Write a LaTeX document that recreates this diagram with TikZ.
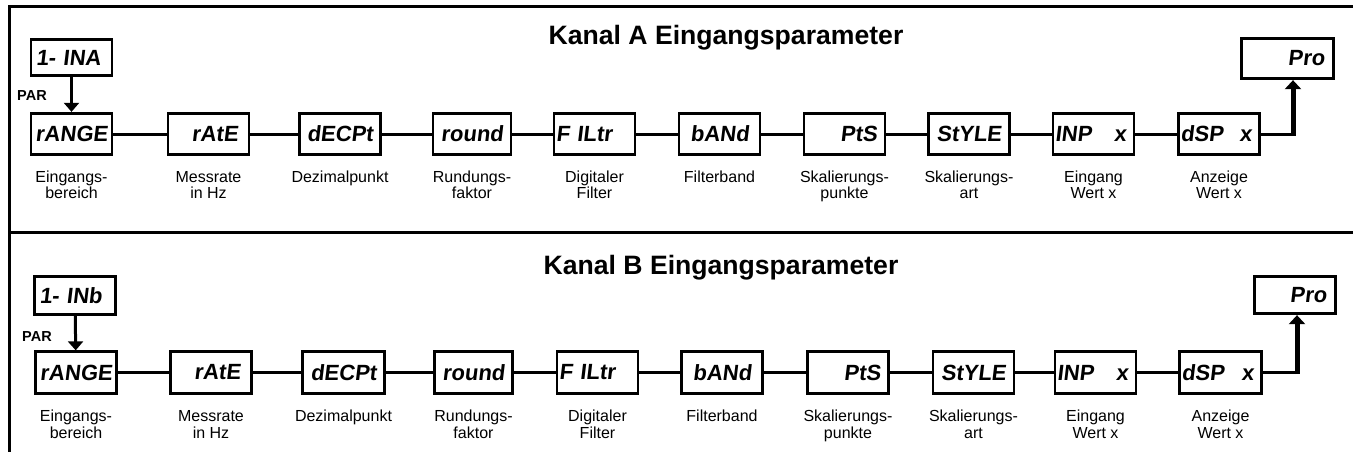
\documentclass[tikz,border=0pt]{standalone}
\usepackage{fontspec}
\setmainfont{Liberation Sans}
\newfontfamily\segfont{Liberation Sans}[FakeSlant=0.12]
\usetikzlibrary{arrows.meta}
\tikzset{
 frame/.style={line width=3pt},
 dbox/.style={draw, line width=2.8pt, minimum height=41.5pt, minimum width=81pt, text width=77pt, inner xsep=2pt, inner ysep=0pt, font=\segfont\bfseries\fontsize{22}{22}\selectfont},
 conn/.style={line width=3pt},
 lbl/.style={font=\fontsize{16}{16.5}\selectfont, align=center, anchor=base, inner sep=0pt},
 title/.style={font=\bfseries\fontsize{26.6}{27}\selectfont, anchor=base, inner sep=0pt},
 partxt/.style={font=\bfseries\fontsize{14.5}{14.5}\selectfont, anchor=base west, inner sep=0pt},
 pararrow/.style={line width=3pt, -{Triangle[width=15pt,length=9pt]}},
 proarrow/.style={line width=5pt, -{Triangle[width=16pt,length=9pt]}},
}
\begin{document}
\begin{tikzpicture}[x=1pt,y=-1pt]
\useasboundingbox (0,0) rectangle (1353,452);
% frame
\draw[frame] (9,452) -- (9,7) -- (1353,7);
\draw[frame] (9,232) -- (1353,232);
% ---------- Kanal A ----------
\node[title] (tA) at (726,45) {Kanal A Eingangsparameter};
\node[dbox, align=left, minimum height=36.5pt] (inA) at (71.5,57.5) {\mbox{\hspace{3pt}1- INA}};
\node[partxt] (parA) at (17,101) {PAR};
\node[dbox, align=center] (a1) at (71.5,134) {rANGE};
\node[dbox, align=right] (a2) at (208.5,134) {\mbox{rAtE\hspace{9pt}}};
\node[dbox, align=center] (a3) at (340,134) {dECPt};
\node[dbox, align=center, minimum width=78pt, text width=74pt] (a4) at (472,134) {round};
\node[dbox, align=left] (a5) at (594.5,134) {F ILtr};
\node[dbox, align=right] (a6) at (719.5,134) {\mbox{bANd\hspace{9pt}}};
\node[dbox, align=right] (a7) at (844.5,134) {\mbox{PtS\hspace{6pt}}};
\node[dbox, align=center] (a8) at (969,134) {StYLE};
\node[dbox, align=left] (a9) at (1093.5,134) {\makebox[77pt][l]{INP\hfill x\hspace{6pt}}};
\node[dbox, align=left] (a10) at (1219,134) {\makebox[77pt][l]{dSP\hfill x\hspace{6pt}}};
\node[dbox, align=right, minimum width=92pt, text width=88pt, minimum height=40.5pt] (proA) at (1287.5,58.5) {\mbox{Pro\hspace{7pt}}};
\coordinate (jA) at (1293,134);
\draw[pararrow] (inA) -- (a1);
\draw[conn] (a1) -- (a2);
\draw[conn] (a2) -- (a3);
\draw[conn] (a3) -- (a4);
\draw[conn] (a4) -- (a5);
\draw[conn] (a5) -- (a6);
\draw[conn] (a6) -- (a7);
\draw[conn] (a7) -- (a8);
\draw[conn] (a8) -- (a9);
\draw[conn] (a9) -- (a10);
\draw[conn] (a10) -- ([xshift=2.5pt]jA);
\draw[proarrow] ([yshift=-1.5pt]jA) -- (jA |- proA.south);
\node[lbl] (la1) at (71.5,198.5) {Eingangs-\\bereich};
\node[lbl] (la2) at (208.5,198.5) {Messrate\\in Hz};
\node[lbl] (la3) at (340,182) {Dezimalpunkt};
\node[lbl] (la4) at (472,198.5) {Rundungs-\\faktor};
\node[lbl] (la5) at (594.5,198.5) {Digitaler\\Filter};
\node[lbl] (la6) at (719.5,182) {Filterband};
\node[lbl] (la7) at (844.5,198.5) {Skalierungs-\\punkte};
\node[lbl] (la8) at (969,198.5) {Skalierungs-\\art};
\node[lbl] (la9) at (1093.5,198.5) {Eingang\\Wert x};
\node[lbl] (la10) at (1219,198.5) {Anzeige\\Wert x};
% ---------- Kanal B ----------
\node[title] (tB) at (721,274) {Kanal B Eingangsparameter};
\node[dbox, align=left, minimum height=38.5pt] (inB) at (75,295.5) {\mbox{\hspace{3pt}1- INb}};
\node[partxt] (parB) at (22,341) {PAR};
\node[dbox, align=center] (b1) at (76,372.5) {rANGE};
\node[dbox, align=right] (b2) at (211,372.5) {\mbox{rAtE\hspace{9pt}}};
\node[dbox, align=center, minimum width=82pt, text width=78pt] (b3) at (343.5,372.5) {dECPt};
\node[dbox, align=center, minimum width=78.5pt, text width=74.5pt] (b4) at (473.5,372.5) {round};
\node[dbox, align=left] (b5) at (597.5,372.5) {F ILtr};
\node[dbox, align=right] (b6) at (722,372.5) {\mbox{bANd\hspace{9pt}}};
\node[dbox, align=right] (b7) at (848,372.5) {\mbox{PtS\hspace{6pt}}};
\node[dbox, align=center] (b8) at (973.5,372.5) {StYLE};
\node[dbox, align=left] (b9) at (1095.5,372.5) {\makebox[77pt][l]{INP\hfill x\hspace{6pt}}};
\node[dbox, align=left, minimum width=82pt, text width=78pt] (b10) at (1220.5,372.5) {\makebox[78pt][l]{dSP\hfill x\hspace{6pt}}};
\node[dbox, align=right, minimum height=37.5pt] (proB) at (1295,295) {\mbox{Pro\hspace{7pt}}};
\coordinate (jB) at (1297,372.5);
\draw[pararrow] (inB) -- (b1);
\draw[conn] (b1) -- (b2);
\draw[conn] (b2) -- (b3);
\draw[conn] (b3) -- (b4);
\draw[conn] (b4) -- (b5);
\draw[conn] (b5) -- (b6);
\draw[conn] (b6) -- (b7);
\draw[conn] (b7) -- (b8);
\draw[conn] (b8) -- (b9);
\draw[conn] (b9) -- (b10);
\draw[conn] (b10) -- ([xshift=2.5pt]jB);
\draw[proarrow] ([yshift=-1.5pt]jB) -- (jB |- proB.south);
\node[lbl] (lb1) at (76,438) {Eingangs-\\bereich};
\node[lbl] (lb2) at (211,438) {Messrate\\in Hz};
\node[lbl] (lb3) at (343.5,421.5) {Dezimalpunkt};
\node[lbl] (lb4) at (473.5,438) {Rundungs-\\faktor};
\node[lbl] (lb5) at (597.5,438) {Digitaler\\Filter};
\node[lbl] (lb6) at (722,421.5) {Filterband};
\node[lbl] (lb7) at (848,438) {Skalierungs-\\punkte};
\node[lbl] (lb8) at (973.5,438) {Skalierungs-\\art};
\node[lbl] (lb9) at (1095.5,438) {Eingang\\Wert x};
\node[lbl] (lb10) at (1220.5,438) {Anzeige\\Wert x};
\end{tikzpicture}
\end{document}
